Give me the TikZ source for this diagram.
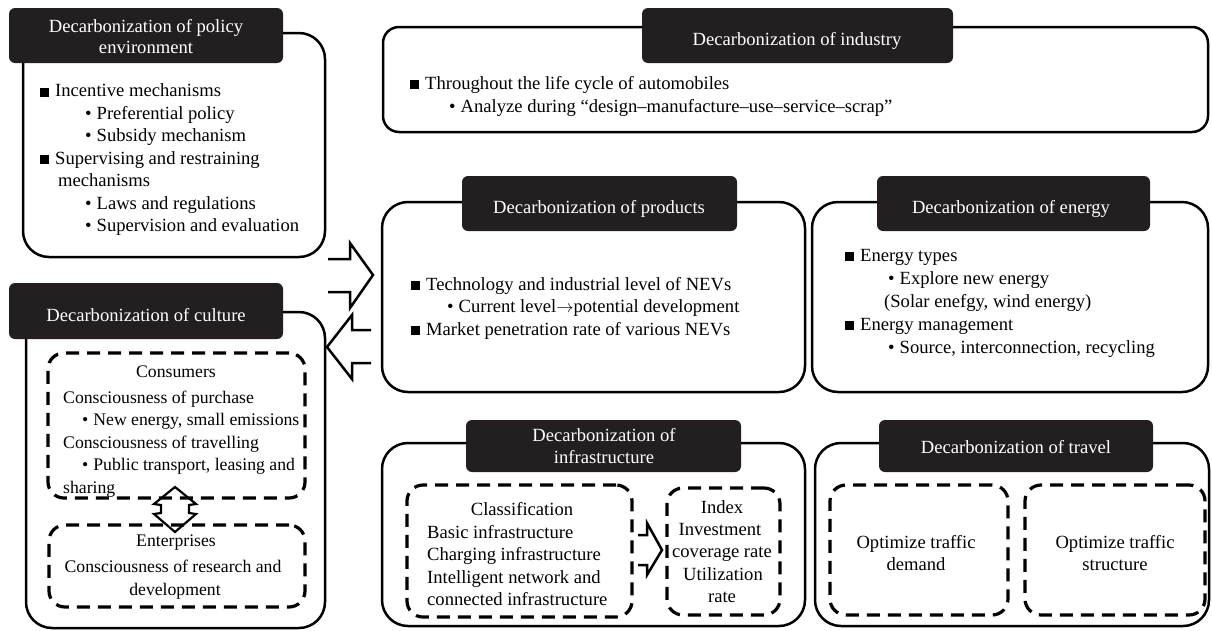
\documentclass[tikz,border=0pt]{standalone}
\usepackage{fontspec}
\setmainfont{Liberation Serif}
\usetikzlibrary{fit}
\definecolor{hdrc}{RGB}{35,31,32}
\newcommand\tf{\fontsize{18.6}{22.5}\selectfont}
\newcommand\cf{\fontsize{17.7}{22}\selectfont}
\newcommand\sqb{\rule{9pt}{9pt}\hspace{6pt}}
\newcommand\bul{\textbullet\hspace{5pt}}
\begin{document}
\begin{tikzpicture}[x=1pt,y=-1pt,
  outerbox/.style={draw, line width=2.5pt, rounded corners=26pt, inner sep=0pt, outer sep=0pt},
  hdr/.style={fill=hdrc, rounded corners=6pt, inner sep=0pt, outer sep=0pt},
  dbox/.style={draw, line width=3.2pt, dash pattern=on 13pt off 8pt, rounded corners=16pt, inner sep=0pt, outer sep=0pt},
  ttl/.style={text=white, font=\tf, anchor=base, inner sep=0pt},
  txt/.style={font=\tf, anchor=base west, inner sep=0pt},
  ctxt/.style={font=\tf, anchor=base, inner sep=0pt},
  ctxtc/.style={font=\cf, anchor=base, inner sep=0pt},
  txtc/.style={font=\cf, anchor=base west, inner sep=0pt},
  blockarrow/.style={draw, line width=2.5pt, line join=miter},
]
\useasboundingbox (0,0) rectangle (1212,630);

% ---------- outer boxes ----------
\node[outerbox, fit={(23,33)(325,257)}] (policy) {};
\node[outerbox, fit={(26,312)(325,628)}] (culture) {};
\node[outerbox, rounded corners=16pt, fit={(383,27)(1208,132)}] (industry) {};
\node[outerbox, fit={(382,202)(805,392)}] (products) {};
\node[outerbox, fit={(812,202)(1208,392)}] (energy) {};
\node[outerbox, fit={(382,443)(805,626)}] (infra) {};
\node[outerbox, fit={(815,443)(1209,626)}] (travel) {};

% ---------- headers ----------
\node[hdr, fit={(9,8)(283,63)}] (hpolicy) {};
\node[hdr, fit={(9,283)(283,339)}] (hculture) {};
\node[hdr, fit={(642,8)(953,63)}] (hindustry) {};
\node[hdr, fit={(462,176)(737,231)}] (hproducts) {};
\node[hdr, fit={(877,176)(1150,231)}] (henergy) {};
\node[hdr, fit={(466,420)(741,472)}] (hinfra) {};
\node[hdr, fit={(879,420)(1153,472)}] (htravel) {};

\node[ttl] (tpolicy1) at (146,32) {Decarbonization of policy};
\node[ttl] (tpolicy2) at (146,53.5) {environment};
\node[ttl] (tculture) at (146,321) {Decarbonization of culture};
\node[ttl] (tindustry) at (797,45) {Decarbonization of industry};
\node[ttl] (tproducts) at (599,213) {Decarbonization of products};
\node[ttl] (tenergy) at (1011,213) {Decarbonization of energy};
\node[ttl] (tinfra1) at (604,441) {Decarbonization of};
\node[ttl] (tinfra2) at (604,463.5) {infrastructure};
\node[ttl] (ttravel) at (1016,453) {Decarbonization of travel};

% ---------- dashed boxes ----------
\node[dbox, fit={(48,353)(305,498)}] (consumers) {};
\node[dbox, fit={(49,525)(305,607)}] (enterprises) {};
\node[dbox, fit={(407,485)(632,617)}] (classif) {};
\node[dbox, fit={(667,488)(780,615)}] (index) {};
\node[dbox, fit={(830,485)(1008,615)}] (demand) {};
\node[dbox, fit={(1025,485)(1205,615)}] (structure) {};

% ---------- policy text ----------
\node[txt] (p1) at (40,96.5) {\sqb Incentive mechanisms};
\node[txt] (p2) at (85,119) {\bul Preferential policy};
\node[txt] (p3) at (85,141.5) {\bul Subsidy mechanism};
\node[txt] (p4) at (40,164) {\sqb Supervising and restraining};
\node[txt] (p5) at (58,186.5) {mechanisms};
\node[txt] (p6) at (85,209) {\bul Laws and regulations};
\node[txt] (p7) at (85,231.5) {\bul Supervision and evaluation};

% ---------- culture text ----------
\node[ctxtc] (c0) at (176,377) {Consumers};
\node[txtc] (c1) at (63,403) {Consciousness of purchase};
\node[txtc] (c2) at (82,425.5) {\bul New energy, small emissions};
\node[txtc] (c3) at (63,448) {Consciousness of travelling};
\node[txtc] (c4) at (82,470.5) {\bul Public transport, leasing and};
\node[txtc] (c5) at (63,493) {sharing};
\node[ctxtc] (c6) at (176,546) {Enterprises};
\node[ctxtc] (c7) at (173,572) {Consciousness of research and};
\node[ctxtc] (c8) at (175,595) {development};

% ---------- industry text ----------
\node[txt] (i1) at (410,89) {\sqb Throughout the life cycle of automobiles};
\node[txt] (i2) at (449,112) {\bul Analyze during “design–manufacture–use–service–scrap”};

% ---------- products text ----------
\node[txt] (r1) at (411,290) {\sqb Technology and industrial level of NEVs};
\node[txt] (r2) at (447,312.5) {\bul Current level$\rightarrow$potential development};
\node[txt] (r3) at (411,335) {\sqb Market penetration rate of various NEVs};

% ---------- energy text ----------
\node[txt] (e1) at (845,261) {\sqb Energy types};
\node[txt] (e2) at (888,284) {\bul Explore new energy};
\node[txt] (e3) at (884,307) {(Solar enefgy, wind energy)};
\node[txt] (e4) at (845,330) {\sqb Energy management};
\node[txt] (e5) at (888,353) {\bul Source, interconnection, recycling};

% ---------- infrastructure text ----------
\node[ctxt] (f0) at (522,515) {Classification};
\node[txt] (f1) at (427,538) {Basic infrastructure};
\node[txt] (f2) at (427,560.5) {Charging infrastructure};
\node[txt] (f3) at (427,583) {Intelligent network and};
\node[txt] (f4) at (427,605.5) {connected infrastructure};
\node[ctxt] (g0) at (722,513) {Index};
\node[ctxt] (g1) at (720,535) {Investment};
\node[ctxt] (g2) at (722,557.5) {coverage rate};
\node[ctxt] (g3) at (723,580) {Utilization};
\node[ctxt] (g4) at (722,602) {rate};

% ---------- travel text ----------
\node[ctxt] (v1) at (916,548) {Optimize traffic};
\node[ctxt] (v2) at (916,570) {demand};
\node[ctxt] (v3) at (1115,548) {Optimize traffic};
\node[ctxt] (v4) at (1115,570) {structure};

% ---------- block arrows ----------
\draw[blockarrow] (328,259) -- (350,259) -- (350,243) -- (373,275) -- (350,308) -- (350,292) -- (328,292);
\draw[blockarrow] (371,330) -- (352,330) -- (352,315) -- (327,347) -- (352,379) -- (352,363) -- (371,363);
\draw[blockarrow] (638,535) -- (647,535) -- (647,523) -- (662,550) -- (647,575) -- (647,565) -- (638,565);
\draw[blockarrow, line width=2.2pt] (175,487) -- (196,504) -- (189,505) -- (189,513) -- (196,514) -- (175,532)
  -- (154,514) -- (161,513) -- (161,505) -- (154,504) -- cycle;
\end{tikzpicture}
\end{document}
